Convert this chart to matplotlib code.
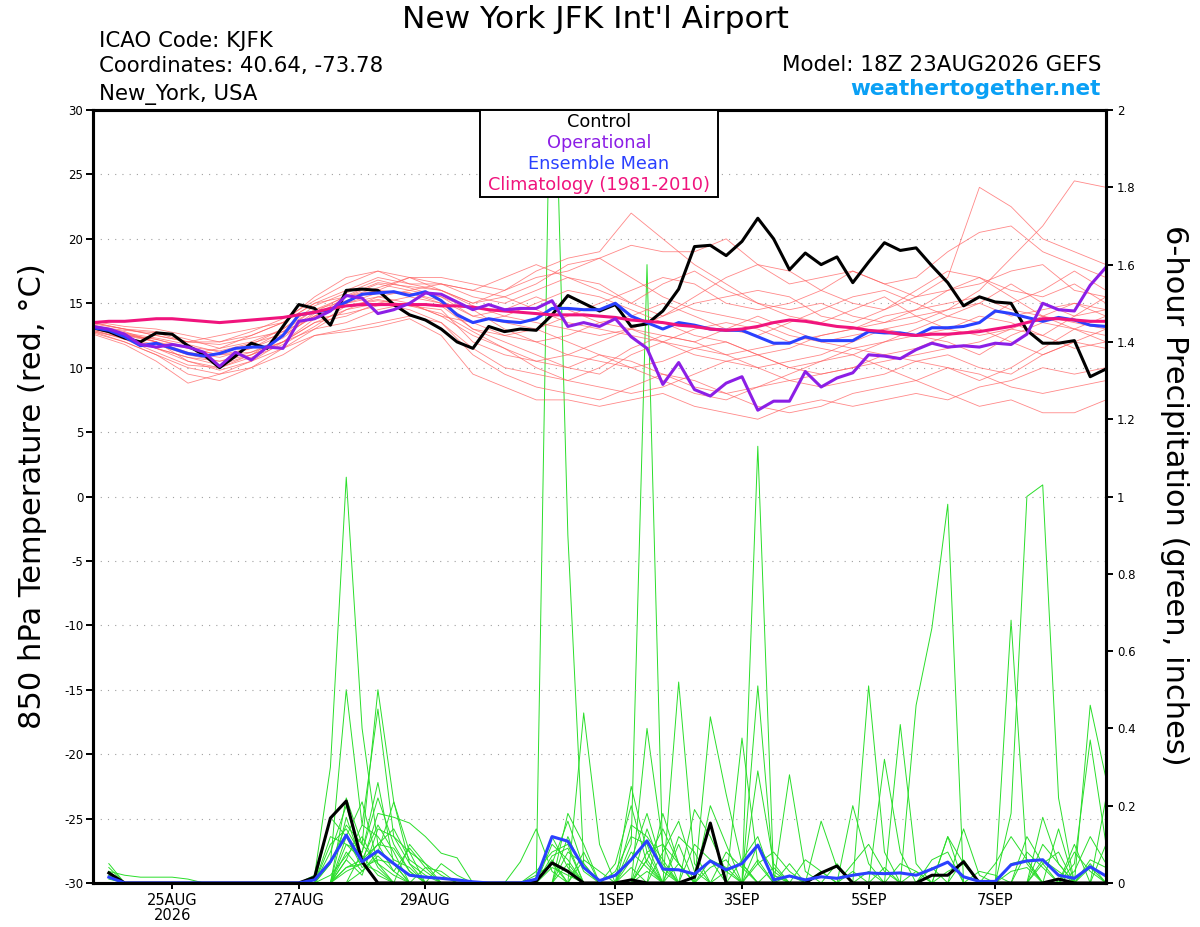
# GEFS meteogram for JFK: 850 hPa temperature and 6-hour precipitation.
import numpy as np
import matplotlib
matplotlib.use('Agg')
import matplotlib.pyplot as plt
from matplotlib.patches import Rectangle

plt.rcParams['font.family'] = 'DejaVu Sans'
plt.rcParams['axes.unicode_minus'] = False

# Forecast steps, 6-hourly from 18Z 23AUG2026.
steps = np.arange(65)
steps_12h = np.arange(0, 65, 2)
precip_steps = np.arange(1, 65)

date_ticks = [5, 13, 21, 33, 41, 49, 57]
date_labels = ['25AUG\n2026', '27AUG', '29AUG', '1SEP', '3SEP', '5SEP', '7SEP']
precip_ticks = [0, 0.2, 0.4, 0.6, 0.8, 1.0, 1.2, 1.4, 1.6, 1.8, 2.0]
precip_tick_labels = ['0', '0.2', '0.4', '0.6', '0.8', '1', '1.2', '1.4', '1.6', '1.8', '2']

# 850 hPa temperature (C), 6-hourly.
control_temp = [13.1, 12.8, 12.3, 12.0, 12.7, 12.6, 11.7, 11.0, 10.0, 10.9,
                11.9, 11.5, 13.2, 14.9, 14.6, 13.3, 16.0, 16.1, 16.0, 14.9,
                14.1, 13.7, 13.0, 12.0, 11.5, 13.2, 12.8, 13.0, 12.9, 14.1,
                15.6, 15.0, 14.4, 14.9, 13.2, 13.4, 14.4, 16.1, 19.4, 19.5,
                18.7, 19.8, 21.6, 20.0, 17.6, 18.9, 18.0, 18.6, 16.6, 18.2,
                19.7, 19.1, 19.3, 17.9, 16.6, 14.8, 15.5, 15.1, 15.0, 12.9,
                11.9, 11.9, 12.1, 9.3, 9.9]
oper_temp = [13.2, 13.0, 12.6, 11.8, 11.6, 11.8, 11.6, 11.2, 10.1, 11.2,
             10.6, 11.6, 11.5, 13.6, 13.8, 14.4, 15.6, 15.4, 14.2, 14.5,
             15.0, 15.8, 15.7, 15.1, 14.5, 14.9, 14.5, 14.6, 14.6, 15.2,
             13.2, 13.5, 13.2, 13.8, 12.4, 11.5, 8.7, 10.4, 8.3, 7.8,
             8.8, 9.3, 6.7, 7.4, 7.4, 9.7, 8.5, 9.2, 9.6, 11.0,
             10.9, 10.7, 11.4, 11.9, 11.6, 11.7, 11.6, 11.9, 11.8, 12.6,
             15.0, 14.5, 14.4, 16.4, 17.8]
mean_temp = [13.1, 12.9, 12.4, 11.7, 11.9, 11.5, 11.1, 10.9, 11.1, 11.5,
             11.6, 11.6, 12.5, 14.1, 14.3, 14.5, 15.1, 15.7, 15.8, 15.9,
             15.6, 15.9, 15.2, 14.1, 13.5, 13.8, 13.6, 13.5, 13.8, 14.6,
             14.6, 14.5, 14.5, 15.0, 14.0, 13.5, 13.0, 13.5, 13.3, 13.0,
             12.9, 12.9, 12.4, 11.9, 11.9, 12.4, 12.1, 12.1, 12.1, 12.8,
             12.7, 12.7, 12.5, 13.1, 13.1, 13.2, 13.5, 14.4, 14.2, 13.9,
             13.6, 13.9, 13.7, 13.3, 13.2]
climo_temp = [13.5, 13.6, 13.6, 13.7, 13.8, 13.8, 13.7, 13.6, 13.5, 13.6,
              13.7, 13.8, 13.9, 14.1, 14.3, 14.6, 14.8, 14.9, 14.9, 14.9,
              14.9, 14.9, 14.8, 14.8, 14.7, 14.5, 14.4, 14.3, 14.2, 14.1,
              14.1, 14.1, 14.0, 13.9, 13.7, 13.6, 13.5, 13.3, 13.2, 13.0,
              12.9, 13.0, 13.2, 13.5, 13.7, 13.6, 13.4, 13.2, 13.1, 12.9,
              12.8, 12.6, 12.5, 12.6, 12.6, 12.7, 12.8, 13.0, 13.2, 13.5,
              13.8, 13.8, 13.7, 13.6, 13.6]

# Ensemble member temperatures, read every 12 hours.
member_temp = [
    [13.0, 12.6, 12.0, 11.2, 10.8, 11.5, 12.8, 14.5, 15.2, 16.0, 15.8, 15.0, 13.5, 14.0, 15.0, 16.0, 15.5,
     14.5, 13.5, 12.5, 12.0, 11.0, 11.5, 12.5, 13.0, 14.0, 14.5, 15.0, 15.5, 14.5, 14.0, 15.0, 14.5],
    [12.8, 12.0, 11.0, 10.0, 9.5, 10.5, 12.0, 13.5, 14.5, 15.0, 14.5, 13.5, 11.0, 9.5, 8.5, 8.0, 7.5,
     8.5, 9.5, 9.0, 8.0, 7.0, 6.5, 7.0, 8.0, 8.5, 9.0, 10.0, 9.5, 8.5, 8.0, 8.5, 9.0],
    [13.5, 13.0, 12.5, 12.0, 12.0, 12.5, 13.5, 15.0, 16.0, 17.0, 16.5, 16.5, 15.5, 15.0, 16.0, 17.0, 16.5,
     15.0, 14.0, 15.5, 17.0, 18.0, 17.5, 16.0, 15.0, 14.5, 15.5, 17.0, 24.0, 22.5, 20.0, 19.0, 18.0],
    [13.2, 12.5, 11.5, 10.5, 10.0, 11.0, 12.5, 14.0, 15.5, 16.5, 16.0, 15.5, 14.5, 13.0, 12.0, 11.0, 10.5,
     10.0, 9.0, 8.0, 7.5, 8.5, 9.5, 10.5, 11.0, 10.0, 9.0, 8.0, 7.0, 7.5, 6.5, 6.5, 7.5],
    [12.9, 12.3, 11.8, 11.0, 11.5, 12.0, 13.0, 14.5, 15.5, 16.0, 17.0, 16.0, 15.0, 16.0, 17.5, 18.5, 19.0,
     22.0, 20.0, 18.0, 16.5, 15.0, 14.0, 13.5, 14.5, 15.5, 14.0, 13.0, 12.5, 13.0, 14.0, 13.5, 13.0],
    [13.0, 12.5, 12.2, 11.5, 11.0, 11.2, 12.0, 13.5, 14.0, 15.0, 15.5, 15.0, 13.0, 12.0, 11.0, 10.0, 9.5,
     11.0, 12.0, 13.0, 13.5, 13.0, 12.0, 11.5, 11.0, 12.0, 13.0, 14.0, 13.5, 15.0, 16.0, 17.5, 16.0],
    [13.3, 12.8, 12.0, 10.5, 9.8, 10.5, 11.5, 13.0, 14.5, 15.5, 15.0, 14.0, 12.5, 11.5, 10.0, 9.0, 8.5,
     8.0, 8.5, 9.5, 10.5, 11.0, 10.0, 9.5, 10.0, 11.0, 11.5, 12.5, 13.0, 12.0, 11.0, 12.0, 13.0],
    [13.6, 13.2, 13.0, 12.5, 12.0, 12.8, 13.8, 15.2, 16.5, 17.5, 17.0, 16.5, 16.0, 17.0, 18.0, 17.0, 16.0,
     15.0, 16.5, 17.5, 16.0, 15.0, 14.5, 15.0, 14.0, 13.5, 14.5, 16.0, 17.0, 16.0, 15.5, 16.5, 15.0],
    [12.7, 12.0, 11.0, 9.5, 9.0, 10.0, 11.0, 12.5, 13.0, 13.5, 14.0, 13.5, 11.5, 10.0, 9.5, 9.0, 10.0,
     11.5, 12.5, 12.0, 11.0, 10.0, 9.0, 8.5, 9.0, 9.5, 10.5, 11.0, 10.0, 9.5, 11.0, 12.0, 11.5],
    [13.1, 12.7, 12.3, 11.8, 11.2, 11.8, 13.0, 14.8, 15.8, 16.8, 16.2, 15.5, 14.0, 14.5, 15.5, 14.5, 13.5,
     14.0, 15.0, 14.0, 13.0, 12.5, 13.5, 14.5, 15.5, 16.0, 15.0, 14.0, 15.0, 16.5, 15.0, 14.0, 14.5],
    [12.6, 11.8, 10.5, 8.8, 9.5, 10.0, 11.5, 12.5, 12.8, 13.2, 13.8, 12.5, 9.5, 8.5, 7.5, 7.5, 7.0,
     7.5, 8.0, 7.0, 6.5, 6.0, 7.0, 7.5, 7.0, 7.5, 8.0, 7.5, 8.5, 9.0, 10.0, 9.5, 10.0],
    [13.4, 13.0, 12.5, 12.0, 12.5, 13.0, 13.5, 15.5, 17.0, 17.5, 16.5, 16.0, 15.0, 15.5, 16.5, 18.0, 18.5,
     17.0, 15.5, 14.5, 14.0, 13.5, 12.5, 12.0, 12.5, 13.0, 13.5, 14.5, 16.0, 18.5, 21.0, 24.5, 24.0],
    [13.0, 12.4, 11.5, 10.8, 10.5, 11.0, 12.0, 13.0, 13.5, 14.5, 15.0, 14.0, 13.5, 12.5, 12.0, 12.5, 13.5,
     13.0, 12.0, 11.0, 10.5, 10.0, 10.5, 11.0, 12.0, 13.0, 12.5, 12.0, 11.0, 12.5, 13.5, 13.0, 12.5],
    [13.2, 12.9, 12.7, 12.0, 11.8, 12.3, 12.8, 14.0, 15.0, 15.5, 16.0, 16.5, 16.0, 15.5, 14.5, 13.5, 13.0,
     12.5, 12.0, 11.5, 11.0, 11.5, 12.0, 12.5, 13.0, 13.5, 14.0, 14.5, 15.0, 14.0, 14.5, 15.0, 14.0],
    [12.9, 12.2, 11.2, 10.2, 10.0, 10.8, 11.8, 13.2, 14.8, 15.2, 14.8, 14.5, 12.0, 11.0, 10.5, 11.0, 12.0,
     13.0, 12.5, 12.0, 13.0, 14.0, 13.0, 12.0, 11.5, 11.0, 10.5, 10.0, 9.0, 10.0, 11.5, 13.0, 14.0],
    [13.5, 13.0, 12.8, 12.2, 11.5, 12.5, 13.5, 15.0, 15.5, 16.2, 17.0, 17.0, 16.5, 16.0, 17.0, 17.5, 18.5,
     19.5, 19.0, 19.0, 20.0, 18.0, 16.5, 17.0, 17.5, 16.5, 17.0, 19.0, 20.5, 21.0, 19.0, 18.0, 17.0],
    [12.8, 12.3, 11.5, 10.8, 10.2, 11.0, 12.0, 13.8, 14.2, 14.8, 15.0, 14.8, 13.0, 12.5, 13.0, 12.0, 11.0,
     10.0, 10.5, 11.5, 12.0, 11.0, 10.0, 10.5, 11.5, 12.0, 12.5, 13.0, 14.0, 13.5, 12.5, 11.5, 12.0],
    [13.3, 12.7, 12.0, 11.0, 10.5, 11.2, 12.3, 14.2, 15.0, 15.8, 15.8, 15.2, 14.0, 13.5, 13.0, 14.0, 15.0,
     16.0, 17.0, 16.5, 15.0, 14.5, 15.0, 16.0, 17.5, 16.5, 15.5, 16.0, 16.5, 17.5, 18.0, 16.0, 15.5],
    [13.0, 12.5, 12.0, 11.5, 11.0, 11.5, 12.5, 14.0, 14.8, 15.3, 14.8, 14.2, 12.8, 11.5, 10.5, 10.0, 11.0,
     10.5, 9.5, 8.5, 8.0, 8.5, 9.0, 9.5, 10.0, 10.5, 11.0, 11.5, 12.0, 13.0, 12.5, 14.0, 15.5],
    [13.1, 12.6, 12.2, 11.6, 11.3, 11.9, 12.6, 14.3, 15.6, 16.6, 16.3, 16.0, 14.8, 14.0, 13.5, 13.0, 12.5,
     13.0, 14.0, 15.0, 15.5, 16.0, 15.5, 14.0, 13.5, 14.5, 16.0, 17.5, 17.0, 15.5, 14.0, 13.0, 12.0],
]

# 6-hour precipitation (inches), steps 1 to 64.
control_precip = [0.026, 0, 0, 0, 0, 0, 0, 0, 0, 0, 0, 0, 0, 0.015, 0.168, 0.212,
                  0.055, 0, 0, 0, 0, 0, 0, 0, 0, 0, 0, 0.005, 0.052, 0.03, 0, 0,
                  0, 0.008, 0, 0, 0, 0.015, 0.155, 0, 0, 0, 0, 0, 0, 0.026, 0.044, 0,
                  0, 0, 0, 0, 0.02, 0.02, 0.055, 0, 0, 0, 0, 0, 0.01, 0, 0, 0]
mean_precip = [0.015, 0, 0, 0, 0, 0, 0, 0, 0, 0, 0, 0, 0, 0.008, 0.055, 0.124,
               0.055, 0.083, 0.05, 0.02, 0.015, 0.012, 0.008, 0.003, 0, 0, 0, 0.01, 0.12, 0.108, 0.04, 0.006,
               0.02, 0.06, 0.109, 0.036, 0.034, 0.023, 0.057, 0.034, 0.05, 0.098, 0.008, 0.018, 0.008, 0.016, 0.012, 0.02,
               0.026, 0.024, 0.026, 0.02, 0.036, 0.054, 0.016, 0.004, 0.004, 0.047, 0.057, 0.06, 0.02, 0.012, 0.042, 0.018]

member_precip = [
    [0.05, 0, 0, 0, 0, 0, 0, 0, 0, 0, 0, 0, 0, 0.02, 0.30, 1.05,
     0.40, 0.10, 0.03, 0, 0, 0, 0, 0, 0, 0, 0, 0.02, 0.05, 0, 0, 0,
     0, 0.10, 1.60, 0.05, 0, 0, 0, 0, 0, 0, 0, 0.02, 0, 0, 0, 0,
     0, 0, 0.41, 0.05, 0, 0, 0, 0, 0, 0, 0, 0, 0, 0, 0.05, 0],
    [0.04, 0, 0, 0, 0, 0, 0, 0, 0, 0, 0, 0, 0, 0, 0.05, 0.50,
     0.15, 0.45, 0.12, 0.05, 0, 0, 0, 0, 0, 0, 0, 0, 2.40, 0.90, 0.05, 0,
     0, 0, 0, 0, 0.05, 0, 0, 0, 0, 0.29, 0.05, 0, 0, 0, 0, 0,
     0, 0, 0, 0, 0, 0, 0, 0, 0, 0.68, 0.05, 0, 0, 0, 0, 0],
    [0.03, 0.02, 0.015, 0.015, 0.015, 0.01, 0, 0, 0, 0, 0, 0, 0, 0, 0, 0.22,
     0.10, 0.50, 0.21, 0.08, 0, 0, 0, 0, 0, 0, 0, 0, 0, 0, 0.44, 0.10,
     0, 0, 0, 0, 0, 0, 0.43, 0.23, 0.05, 0, 0, 0, 0, 0, 0, 0,
     0, 0, 0, 0, 0, 0.12, 0, 0, 0, 0, 0, 0, 0, 0, 0.46, 0.27],
    [0.02, 0, 0, 0, 0, 0, 0, 0, 0, 0, 0, 0, 0, 0, 0.17, 0.12,
     0.21, 0.05, 0.02, 0, 0, 0, 0, 0, 0, 0, 0, 0, 0, 0.18, 0.10, 0,
     0, 0, 0.40, 0.10, 0, 0, 0, 0, 0, 1.13, 0.02, 0, 0, 0, 0, 0,
     0, 0, 0, 0.46, 0.66, 0.98, 0, 0, 0, 0, 0, 0.17, 0.05, 0, 0, 0],
    [0.01, 0, 0, 0, 0, 0, 0, 0, 0, 0, 0, 0, 0, 0, 0, 0.17,
     0.05, 0.18, 0.17, 0.155, 0.12, 0.077, 0.065, 0, 0, 0, 0, 0, 0.05, 0.16, 0.04, 0,
     0, 0, 0, 0, 0.52, 0.05, 0, 0, 0, 0, 0, 0.28, 0.03, 0, 0, 0,
     0, 0, 0, 0, 0, 0, 0, 0, 0, 0.18, 1.00, 1.03, 0.22, 0, 0, 0],
    [0, 0, 0, 0, 0, 0, 0, 0, 0, 0, 0, 0, 0, 0, 0.12, 0.10,
     0.06, 0.15, 0.08, 0, 0, 0, 0, 0, 0, 0, 0, 0, 0, 0, 0, 0,
     0, 0.25, 0.08, 0, 0, 0, 0, 0, 0.375, 0.05, 0, 0, 0, 0, 0, 0,
     0.51, 0.08, 0, 0, 0, 0, 0, 0, 0, 0, 0, 0, 0, 0.05, 0.37, 0.10],
    [0, 0, 0, 0, 0, 0, 0, 0, 0, 0, 0, 0, 0, 0, 0, 0.08,
     0.03, 0.08, 0.21, 0.05, 0.02, 0, 0, 0, 0, 0, 0.055, 0.14, 0.03, 0, 0, 0,
     0, 0, 0, 0.18, 0.05, 0, 0, 0, 0, 0.51, 0.02, 0, 0, 0, 0, 0.20,
     0.05, 0, 0, 0, 0, 0, 0.14, 0.02, 0, 0, 0, 0, 0, 0, 0, 0],
    [0, 0, 0, 0, 0, 0, 0, 0, 0, 0, 0, 0, 0, 0, 0.05, 0.15,
     0.10, 0.05, 0, 0, 0, 0.05, 0.02, 0, 0, 0, 0, 0, 0, 0, 0, 0,
     0.05, 0.20, 0.05, 0, 0, 0.19, 0.12, 0.03, 0, 0, 0, 0, 0, 0.16, 0.04, 0,
     0, 0.32, 0.08, 0, 0, 0, 0, 0, 0, 0, 0, 0, 0.14, 0, 0, 0],
    [0, 0, 0, 0, 0, 0, 0, 0, 0, 0, 0, 0, 0, 0, 0, 0.06,
     0.15, 0.12, 0.06, 0.04, 0, 0, 0, 0, 0, 0, 0, 0, 0, 0.08, 0.05, 0,
     0, 0.15, 0.12, 0.06, 0, 0, 0.20, 0.10, 0, 0, 0, 0, 0, 0, 0, 0,
     0, 0, 0, 0, 0, 0.12, 0.05, 0, 0, 0, 0, 0.10, 0.05, 0, 0, 0.10],
    [0, 0, 0, 0, 0, 0, 0, 0, 0, 0, 0, 0, 0, 0, 0.08, 0.20,
     0.06, 0, 0, 0.10, 0.05, 0, 0, 0, 0, 0, 0, 0, 0.10, 0.06, 0, 0,
     0, 0, 0.08, 0.10, 0.05, 0, 0, 0, 0, 0.05, 0.08, 0.03, 0, 0, 0, 0,
     0, 0, 0, 0, 0, 0, 0, 0, 0.05, 0.12, 0.06, 0, 0, 0, 0, 0],
    [0, 0, 0, 0, 0, 0, 0, 0, 0, 0, 0, 0, 0, 0, 0, 0,
     0.08, 0.22, 0.10, 0.03, 0, 0, 0, 0, 0, 0, 0, 0, 0, 0, 0.06, 0.03,
     0, 0, 0, 0, 0.12, 0.08, 0, 0, 0, 0, 0, 0, 0.06, 0.03, 0, 0,
     0, 0, 0, 0, 0.06, 0.08, 0, 0, 0, 0, 0, 0, 0, 0.03, 0.12, 0.05],
    [0, 0, 0, 0, 0, 0, 0, 0, 0, 0, 0, 0, 0, 0, 0, 0.04,
     0.06, 0.10, 0.14, 0.06, 0.03, 0, 0, 0, 0, 0, 0, 0, 0.06, 0, 0, 0,
     0.03, 0.12, 0.10, 0, 0, 0, 0, 0.08, 0.04, 0, 0, 0, 0, 0, 0, 0.05,
     0.10, 0.03, 0, 0, 0, 0, 0, 0, 0, 0, 0.08, 0.04, 0, 0, 0, 0],
    [0.02, 0, 0, 0, 0, 0, 0, 0, 0, 0, 0, 0, 0, 0, 0, 0.12,
     0.04, 0.06, 0.05, 0, 0, 0, 0, 0, 0, 0, 0, 0, 0, 0.05, 0, 0,
     0, 0, 0.06, 0.14, 0.05, 0, 0.06, 0.04, 0, 0, 0, 0, 0, 0, 0.05, 0,
     0, 0, 0, 0, 0, 0, 0, 0.03, 0.02, 0, 0, 0, 0, 0.08, 0.03, 0],
    [0, 0, 0, 0, 0, 0, 0, 0, 0, 0, 0, 0, 0, 0, 0.02, 0.07,
     0.12, 0.04, 0, 0, 0.04, 0.03, 0, 0, 0, 0, 0, 0, 0, 0, 0, 0,
     0, 0.06, 0.18, 0.04, 0, 0, 0, 0, 0, 0.06, 0, 0, 0, 0, 0, 0,
     0, 0, 0.05, 0.03, 0, 0, 0, 0, 0, 0, 0, 0.05, 0.08, 0, 0, 0],
    [0, 0, 0, 0, 0, 0, 0, 0, 0, 0, 0, 0, 0, 0, 0, 0.03,
     0.05, 0.10, 0.09, 0.03, 0, 0, 0, 0, 0, 0, 0, 0, 0.04, 0.02, 0, 0,
     0, 0, 0, 0.08, 0.16, 0.03, 0, 0, 0, 0, 0.04, 0, 0, 0, 0, 0,
     0, 0, 0, 0, 0, 0, 0.06, 0, 0, 0, 0, 0, 0, 0, 0.06, 0.04],
    [0, 0, 0, 0, 0, 0, 0, 0, 0, 0, 0, 0, 0, 0, 0.10, 0.14,
     0.07, 0.02, 0, 0, 0, 0, 0, 0, 0, 0, 0, 0.03, 0.08, 0.10, 0, 0,
     0, 0.04, 0, 0, 0, 0.10, 0.06, 0, 0, 0.10, 0.03, 0, 0, 0, 0, 0,
     0, 0, 0, 0, 0.04, 0, 0, 0, 0, 0, 0.12, 0.05, 0, 0, 0, 0],
    [0, 0, 0, 0, 0, 0, 0, 0, 0, 0, 0, 0, 0, 0, 0, 0.10,
     0.08, 0.26, 0.05, 0, 0, 0, 0, 0, 0, 0, 0, 0, 0, 0.12, 0.03, 0,
     0, 0, 0.06, 0, 0, 0, 0, 0, 0.06, 0.12, 0, 0, 0, 0, 0, 0,
     0.03, 0, 0, 0, 0, 0, 0, 0, 0, 0.05, 0.06, 0, 0, 0, 0, 0.22],
    [0, 0, 0, 0, 0, 0, 0, 0, 0, 0, 0, 0, 0, 0, 0, 0,
     0.03, 0.07, 0.03, 0.09, 0.04, 0, 0, 0, 0, 0, 0, 0, 0.12, 0.04, 0, 0,
     0, 0, 0.03, 0, 0, 0, 0.04, 0.06, 0, 0, 0, 0, 0, 0.03, 0, 0,
     0, 0, 0, 0, 0, 0.03, 0.05, 0, 0, 0, 0, 0, 0, 0.10, 0, 0],
    [0, 0, 0, 0, 0, 0, 0, 0, 0, 0, 0, 0, 0, 0, 0, 0.06,
     0.02, 0.14, 0.12, 0.08, 0.05, 0.02, 0, 0, 0, 0, 0, 0, 0, 0, 0.08, 0,
     0, 0.08, 0.04, 0, 0.10, 0, 0, 0, 0, 0, 0, 0.05, 0, 0, 0, 0,
     0, 0.04, 0, 0, 0, 0, 0, 0, 0, 0, 0, 0.06, 0.03, 0, 0, 0],
    [0.03, 0, 0, 0, 0, 0, 0, 0, 0, 0, 0, 0, 0, 0, 0, 0.04,
     0.05, 0.03, 0, 0, 0, 0, 0, 0, 0, 0, 0, 0, 0.07, 0.09, 0, 0,
     0, 0, 0.14, 0.03, 0, 0, 0, 0.03, 0.05, 0, 0, 0, 0, 0, 0, 0.03,
     0, 0, 0, 0.03, 0, 0, 0, 0, 0, 0.03, 0.04, 0, 0, 0, 0.04, 0],
]

# Colours.
red_member = '#ff6060'
green_member = '#2ade2a'
oper_color = '#8c1ee6'
mean_color = '#2a40ff'
climo_color = '#f0147d'

fig = plt.figure(figsize=(12, 9.27), dpi=100)
ax = fig.add_axes([0.0775, 0.0475, 0.8442, 0.8338])
ax2 = ax.twinx()

# Temperature axes on top of the precipitation axes.
ax.set_zorder(ax2.get_zorder() + 1)
ax.patch.set_visible(False)

# Precipitation (right axis).
for m in member_precip:
    ax2.plot(precip_steps, m, color=green_member, lw=0.7)
ax2.plot(precip_steps, control_precip, color='black', lw=2.2)
ax2.plot(precip_steps, mean_precip, color=mean_color, lw=2.2)

# Temperature (left axis).
for m in member_temp:
    ax.plot(steps_12h, m, color=red_member, lw=0.6, alpha=0.75)
ax.plot(steps, control_temp, color='black', lw=2.2)
ax.plot(steps, mean_temp, color=mean_color, lw=2.2)
ax.plot(steps, climo_temp, color=climo_color, lw=2.2)
ax.plot(steps, oper_temp, color=oper_color, lw=2.2)

ax.set_xlim(0, 64)
ax.set_ylim(-30, 30)
ax2.set_ylim(0, 2)

ax.set_yticks(np.arange(-30, 31, 5))
ax.tick_params(axis='y', direction='out', length=5, width=1.4, labelsize=8.5, pad=2)
ax.set_xticks(date_ticks)
ax.set_xticklabels(date_labels, fontsize=10.5)
for lab in ax.get_xticklabels():
    lab.set_linespacing(1.0)
ax.tick_params(axis='x', direction='out', length=4, width=1.4, pad=3)

ax2.set_yticks(precip_ticks)
ax2.set_yticklabels(precip_tick_labels)
ax2.tick_params(axis='y', direction='out', length=5, width=1.4, labelsize=8.5, pad=3)

ax.grid(axis='y', color='#a0a0a0', linestyle=(0, (1, 5.5)), linewidth=0.8)
ax.set_axisbelow(True)

for a in (ax, ax2):
    for s in a.spines.values():
        s.set_linewidth(2.2)

# Legend box.
ax.add_patch(Rectangle((0.382, 0.8875), 0.235, 0.1125, transform=ax.transAxes,
                       facecolor='white', edgecolor='black', lw=1.4, zorder=10, clip_on=False))
legend_labels = ['Control', 'Operational', 'Ensemble Mean', 'Climatology (1981-2010)']
legend_colors = ['black', oper_color, mean_color, climo_color]
legend_y = [0.978, 0.951, 0.924, 0.8965]
for lab, col, yy in zip(legend_labels, legend_colors, legend_y):
    ax.text(0.4995, yy, lab, transform=ax.transAxes, ha='center', va='baseline',
            fontsize=12.8, color=col, zorder=11)

# Header texts.
fig.text(0.4963, 0.9698, "New York JFK Int'l Airport", ha='center', va='baseline', fontsize=22.5)
fig.text(0.0825, 0.9493, 'ICAO Code: KJFK', va='baseline', fontsize=15.3)
fig.text(0.0825, 0.9218, 'Coordinates: 40.64, -73.78', va='baseline', fontsize=15.3)
fig.text(0.0825, 0.8921, 'New_York, USA', va='baseline', fontsize=15.3)
fig.text(0.9175, 0.9237, 'Model: 18Z 23AUG2026 GEFS', ha='right', va='baseline', fontsize=15.5)
fig.text(0.9175, 0.8975, 'weathertogether.net', ha='right', va='baseline', fontsize=15.5,
         fontweight='bold', color='#0aa0f5')

# Axis titles.
fig.text(0.0275, 0.4644, '850 hPa Temperature (red, °C)', rotation=90, ha='center', va='center', fontsize=22)
fig.text(0.979, 0.466, '6-hour Precipitation (green, inches)', rotation=-90, ha='center', va='center', fontsize=22)

fig.savefig('out.png', dpi=100)
